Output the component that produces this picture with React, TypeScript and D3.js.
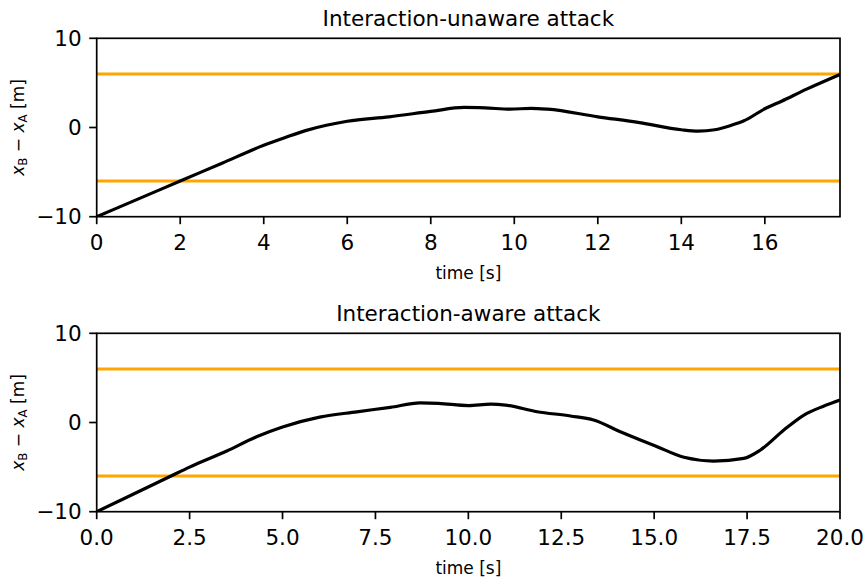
import React from 'react';
import * as d3 from 'd3';

const titles = ['Interaction-unaware attack', 'Interaction-aware attack'];

const unawareT = [0, 1, 2, 3, 4, 4.5, 5, 5.5, 6, 7, 8, 8.8, 9.3, 9.9, 10.4, 10.8, 12, 13, 14, 14.4, 14.8, 15.2, 15.5, 16, 16.4, 17, 17.8];
const unawareV = [-10, -8, -6, -4, -2, -1.15, -0.35, 0.25, 0.7, 1.2, 1.8, 2.25, 2.2, 2.05, 2.15, 2.05, 1.2, 0.55, -0.25, -0.4, -0.25, 0.25, 0.75, 2.1, 2.95, 4.3, 5.95];

const awareT = [0, 2, 2.5, 3.5, 4.3, 5, 6, 7, 7.9, 8.7, 9.2, 10, 10.6, 11, 11.85, 12.75, 13.37, 14.09, 15.08, 15.8, 16.6, 17.41, 17.86, 18.49, 19.03, 19.57, 20];
const awareV = [-10, -6, -5, -3.2, -1.6, -0.5, 0.6, 1.2, 1.7, 2.2, 2.15, 1.9, 2.05, 1.95, 1.21, 0.73, 0.28, -1.03, -2.71, -3.9, -4.32, -4.02, -3.08, -0.84, 0.84, 1.85, 2.52];

const boundLevels = [6, -6];
const yTicks = [-10, 0, 10];
const unawareXTicks = [0, 2, 4, 6, 8, 10, 12, 14, 16];
const awareXTicks = [0, 2.5, 5, 7.5, 10, 12.5, 15, 17.5, 20];

const FONT = 'DejaVu Sans, sans-serif';
const TICK_FS = 21.5;
const LABEL_FS = 17;
const X0 = 96.7;
const X1 = 840;

function fmtNum(v: number, decimals: number) {
  const s = v.toFixed(decimals);
  return s.replace('-', '\u2212');
}

function Panel(props: {
  top: number; bottom: number; xMax: number; xTicks: number[]; decimals: number;
  t: number[]; v: number[]; title: string; id: string;
}) {
  const { top, bottom, xMax, xTicks, decimals, t, v, title, id } = props;
  const x = d3.scaleLinear().domain([0, xMax]).range([X0, X1]);
  const y = d3.scaleLinear().domain([-10, 10]).range([bottom, top]);
  const pts = t.map((tt, i) => [tt, v[i]] as [number, number]);
  const line = d3.line<[number, number]>()
    .x(d => x(d[0]))
    .y(d => y(d[1]))
    .curve(d3.curveMonotoneX);
  const cy = (top + bottom) / 2;
  return (
    <g>
      <defs>
        <clipPath id={id}>
          <rect x={X0} y={top} width={X1 - X0} height={bottom - top} />
        </clipPath>
      </defs>
      <g clipPath={`url(#${id})`}>
        {boundLevels.map(b => (
          <line key={b} x1={X0} x2={X1} y1={y(b)} y2={y(b)} stroke="#FFA500" strokeWidth={3.2} />
        ))}
        <path d={line(pts) || ''} fill="none" stroke="#000" strokeWidth={3.2} strokeLinejoin="round" strokeLinecap="butt" />
      </g>
      <rect x={X0} y={top} width={X1 - X0} height={bottom - top} fill="none" stroke="#000" strokeWidth={1.7} />
      {xTicks.map(tk => (
        <g key={tk}>
          <line x1={x(tk)} x2={x(tk)} y1={bottom} y2={bottom + 7.5} stroke="#000" strokeWidth={1.7} />
          <text x={x(tk)} y={bottom + 33} textAnchor="middle" fontFamily={FONT} fontSize={TICK_FS} fill="#000">
            {fmtNum(tk, decimals)}
          </text>
        </g>
      ))}
      {yTicks.map(tk => (
        <g key={tk}>
          <line x1={X0 - 7.5} x2={X0} y1={y(tk)} y2={y(tk)} stroke="#000" strokeWidth={1.7} />
          <text x={X0 - 15} y={y(tk) + TICK_FS * 0.36} textAnchor="end" fontFamily={FONT} fontSize={TICK_FS} fill="#000">
            {fmtNum(tk, 0)}
          </text>
        </g>
      ))}
      <text x={(X0 + X1) / 2} y={top - 12.3} textAnchor="middle" fontFamily={FONT} fontSize={TICK_FS} fill="#000">
        {title}
      </text>
      <text x={(X0 + X1) / 2} y={bottom + 62.5} textAnchor="middle" fontFamily={FONT} fontSize={LABEL_FS} fill="#000">
        time [s]
      </text>
      <text transform={`translate(24, ${cy}) rotate(-90)`} textAnchor="middle" fontFamily={FONT} fontSize={LABEL_FS} fill="#000">
        <tspan fontStyle="italic">x</tspan>
        <tspan fontSize={LABEL_FS * 0.7} dy={3}>B</tspan>
        <tspan dy={-3}>{' \u2212 '}</tspan>
        <tspan fontStyle="italic">x</tspan>
        <tspan fontSize={LABEL_FS * 0.7} dy={3}>A</tspan>
        <tspan dy={-3}>{' [m]'}</tspan>
      </text>
    </g>
  );
}

export default function App() {
  return (
    <div style={{ position: 'absolute', left: 0, top: 0 }}>
      <svg width={866} height={580} viewBox="0 0 866 580" style={{ display: 'block', background: '#fff' }}>
        <Panel top={38.3} bottom={216.7} xMax={17.8} xTicks={unawareXTicks} decimals={0}
          t={unawareT} v={unawareV} title={titles[0]} id="clipA" />
        <Panel top={333.3} bottom={511.7} xMax={20} xTicks={awareXTicks} decimals={1}
          t={awareT} v={awareV} title={titles[1]} id="clipB" />
      </svg>
    </div>
  );
}
